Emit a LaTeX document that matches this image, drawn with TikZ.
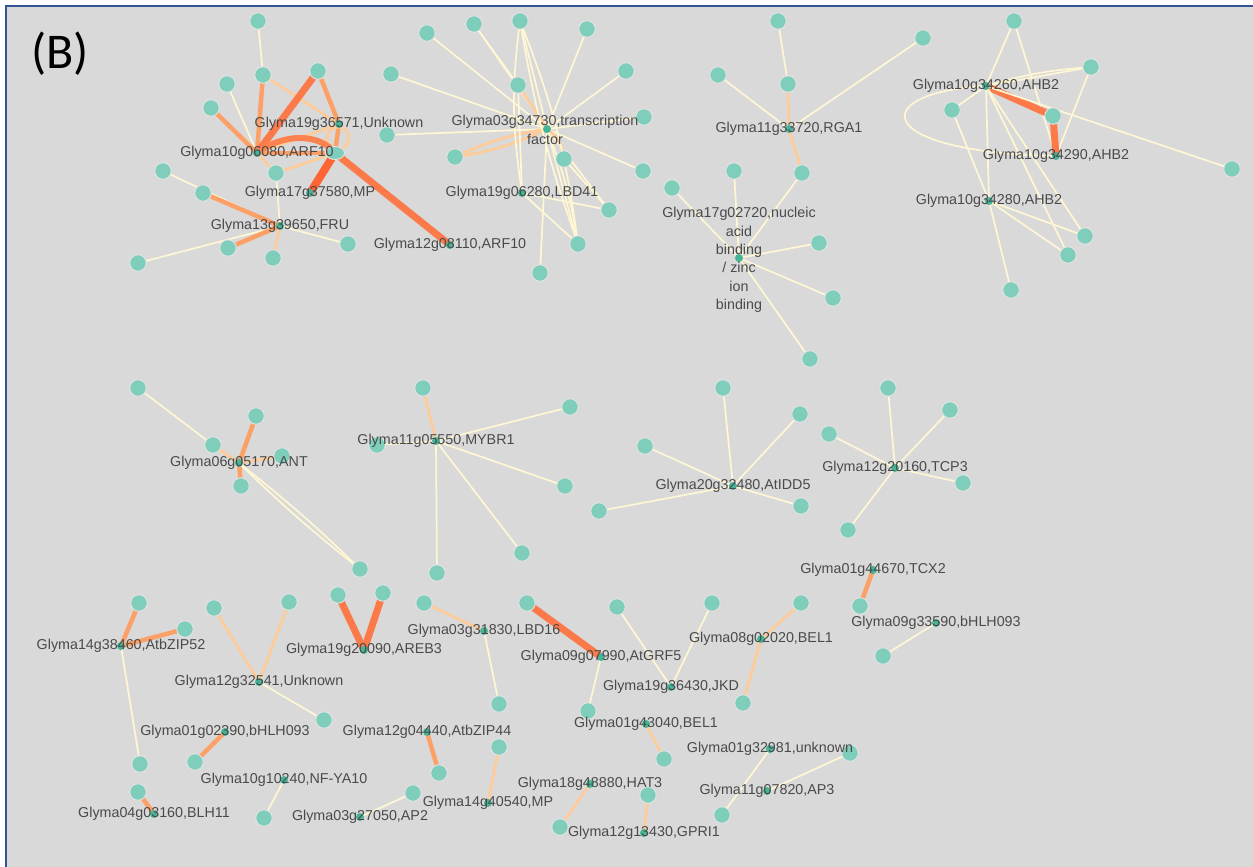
\documentclass[tikz,border=0pt]{standalone}
\usepackage{fontspec}
\setmainfont{Liberation Sans}
\newfontfamily\calfont{Carlito}
\usetikzlibrary{shapes.geometric}
\definecolor{bgc}{HTML}{D9D9D9}
\definecolor{frame}{HTML}{2F5597}
\definecolor{ndfill}{HTML}{7FCDBB}
\definecolor{ndborder}{HTML}{E4E4E4}
\definecolor{hbfill}{HTML}{45B497}
\definecolor{cream}{HTML}{FFF7D4}
\definecolor{lorange}{HTML}{FDCC9A}
\definecolor{morange}{HTML}{FDA068}
\definecolor{rorange}{HTML}{FC7A4A}
\definecolor{dred}{HTML}{FF6434}
\definecolor{labtext}{HTML}{4A4A4A}
\pgfdeclarelayer{back}
\pgfdeclarelayer{edges}
\pgfsetlayers{back,edges,main}
\tikzset{
  nd/.style={circle, fill=ndfill, draw=ndborder, line width=0.9pt, minimum size=16.5pt, inner sep=0pt},
  ndell/.style={ellipse, fill=ndfill, draw=ndborder, line width=0.9pt, minimum width=19pt, minimum height=13pt, inner sep=0pt},
  hb/.style={circle, fill=hbfill, minimum size=8pt, inner sep=0pt},
  lb/.style={font=\fontsize{14.3}{18.4}\selectfont, text=labtext, inner sep=0pt, align=center},
  ec/.style={draw=cream, line width=1.7pt},
  el/.style={draw=lorange, line width=2.8pt},
  eo/.style={draw=morange, line width=4.5pt},
  er/.style={draw=rorange, line width=7pt},
  ex/.style={draw=dred, line width=8pt},
}
\begin{document}
\begin{tikzpicture}[x=1pt,y=-1pt]
\useasboundingbox (0,0) rectangle (1253,867);
\begin{pgfonlayer}{back}
\fill[white] (0,0) rectangle (1253,867);
\fill[bgc] (6,6) rectangle (1253,867);
\draw[frame, line width=2.5pt] (6,867) -- (6,6) -- (1253,6);
\end{pgfonlayer}
\node[font=\calfont\fontsize{50}{60}\selectfont, text=black] (panel) at (60,54) {(B)};

% ---------- ARF10 cluster ----------
\node[nd] (a1) at (258,21) {};
\node[nd] (a2) at (263,75) {};
\node[nd] (a3) at (318,71) {};
\node[nd] (a4) at (227,84) {};
\node[nd] (a5) at (211,108) {};
\node[ndell] (a6) at (335,153) {};
\node[nd] (a7) at (276,173) {};
\node[nd] (a8) at (163,171) {};
\node[nd] (a9) at (203,193) {};
\node[nd] (a10) at (138,263) {};
\node[nd] (a11) at (228,248) {};
\node[nd] (a12) at (273,258) {};
\node[nd] (a13) at (348,244) {};
\node[hb] (hARF) at (257,153) {};
\node[hb] (hUNK) at (339,124) {};
\node[hb] (hMPa) at (310,193) {};
\node[hb] (hFRU) at (280,226) {};
\node[hb] (hARFb) at (450,245) {};

% ---------- transcription factor cluster ----------
\node[nd] (t1) at (427,33) {};
\node[nd] (t2) at (474,24) {};
\node[nd] (t3) at (520,21) {};
\node[nd] (t4) at (587,29) {};
\node[nd] (t5) at (391,74) {};
\node[nd] (t6) at (518,85) {};
\node[nd] (t7) at (626,71) {};
\node[nd] (t8) at (644,117) {};
\node[nd] (t9) at (387,135) {};
\node[nd] (t10) at (455,157) {};
\node[nd] (t11) at (564,159) {};
\node[nd] (t12) at (643,171) {};
\node[nd] (t13) at (609,210) {};
\node[nd] (t14) at (578,244) {};
\node[nd] (t15) at (540,273) {};
\node[hb] (hTF) at (547,129) {};
\node[hb] (hLBDa) at (522,193) {};

% ---------- RGA1 / nucleic acid cluster ----------
\node[nd] (r1) at (778,21) {};
\node[nd] (r2) at (923,38) {};
\node[nd] (r3) at (718,75) {};
\node[nd] (r4) at (788,84) {};
\node[nd] (r5) at (802,173) {};
\node[hb] (hRGA) at (789,129) {};
\node[nd] (n1) at (734,171) {};
\node[nd] (n2) at (672,188) {};
\node[nd] (n3) at (819,243) {};
\node[nd] (n4) at (833,298) {};
\node[nd] (n5) at (810,359) {};
\node[hb] (hNUC) at (739,258) {};

% ---------- AHB2 cluster ----------
\node[nd] (s1) at (1014,21) {};
\node[nd] (s2) at (1091,67) {};
\node[nd] (s3) at (952,110) {};
\node[nd] (s4) at (1053,116) {};
\node[nd] (s5) at (1232,169) {};
\node[nd] (s6) at (1085,236) {};
\node[nd] (s7) at (1068,255) {};
\node[nd] (s8) at (1011,290) {};
\node[hb] (hA1) at (986,86) {};
\node[hb] (hA2) at (1056,156) {};
\node[hb] (hA3) at (989,201) {};

% ---------- ANT / MYBR1 ----------
\node[nd] (p1) at (138,388) {};
\node[nd] (p2) at (256,416) {};
\node[nd] (p3) at (213,445) {};
\node[nd] (p4) at (282,456) {};
\node[nd] (p5) at (241,486) {};
\node[nd] (p6) at (360,569) {};
\node[hb] (hANT) at (239,463) {};
\node[nd] (m1) at (423,388) {};
\node[nd] (m2) at (570,407) {};
\node[nd] (m3) at (377,445) {};
\node[nd] (m4) at (565,486) {};
\node[nd] (m5) at (522,553) {};
\node[nd] (m6) at (437,573) {};
\node[hb] (hMY) at (436,441) {};

% ---------- AtIDD5 / TCP3 / TCX2 / bHLH093 ----------
\node[nd] (i1) at (723,388) {};
\node[nd] (i2) at (800,414) {};
\node[nd] (i3) at (645,446) {};
\node[nd] (i4) at (599,511) {};
\node[nd] (i5) at (801,506) {};
\node[hb] (hID) at (733,486) {};
\node[nd] (c1) at (888,388) {};
\node[nd] (c2) at (950,410) {};
\node[nd] (c3) at (829,434) {};
\node[nd] (c4) at (963,483) {};
\node[nd] (c5) at (848,530) {};
\node[hb] (hTC) at (895,468) {};
\node[nd] (x1) at (860,606) {};
\node[hb] (hTX) at (873,570) {};
\node[nd] (b1) at (883,656) {};
\node[hb] (hBa) at (936,623) {};

% ---------- bottom pairs ----------
\node[nd] (q1) at (139,603) {};
\node[nd] (q2) at (185,629) {};
\node[nd] (q3) at (140,764) {};
\node[hb] (hZ52) at (121,646) {};
\node[nd] (q4) at (214,608) {};
\node[nd] (q5) at (289,602) {};
\node[nd] (q6) at (324,720) {};
\node[hb] (hU2) at (259,682) {};
\node[nd] (q7) at (338,595) {};
\node[nd] (q8) at (383,593) {};
\node[hb] (hAR) at (364,650) {};
\node[nd] (q9) at (424,603) {};
\node[nd] (q10) at (499,704) {};
\node[hb] (hLBDb) at (484,631) {};
\node[nd] (q11) at (527,603) {};
\node[nd] (q12) at (588,711) {};
\node[hb] (hGRF) at (601,657) {};
\node[nd] (q13) at (617,607) {};
\node[nd] (q14) at (712,603) {};
\node[hb] (hJKD) at (671,687) {};
\node[nd] (q15) at (801,603) {};
\node[nd] (q16) at (743,703) {};
\node[hb] (hBEa) at (761,639) {};
\node[nd] (q17) at (664,759) {};
\node[hb] (hBEb) at (646,724) {};
\node[nd] (q18) at (195,762) {};
\node[hb] (hBb) at (225,732) {};
\node[nd] (q19) at (264,818) {};
\node[hb] (hNF) at (284,780) {};
\node[nd] (q20) at (439,773) {};
\node[hb] (hZ44) at (427,732) {};
\node[nd] (q21) at (138,792) {};
\node[hb] (hBLH) at (154,814) {};
\node[nd] (q22) at (413,793) {};
\node[hb] (hAP2) at (360,817) {};
\node[nd] (q23) at (499,747) {};
\node[hb] (hMPb) at (488,803) {};
\node[nd] (q24) at (560,827) {};
\node[hb] (hHAT) at (590,784) {};
\node[nd] (q25) at (648,795) {};
\node[hb] (hGP) at (644,833) {};
\node[nd] (q26) at (722,815) {};
\node[hb] (hUk) at (770,749) {};
\node[nd] (q27) at (850,753) {};
\node[hb] (hAP3) at (767,791) {};

% ---------- edges ----------
\begin{pgfonlayer}{edges}
% ARF10
\draw[ec] (a1.center) -- (a2.center);
\draw[eo] (a2.center) -- (hARF.center);
\draw[el] (a2.center) -- (hUNK.center);
\draw[er] (a3.center) -- (hARF.center);
\draw[eo] (a3.center) -- (hUNK.center);
\draw[eo] (hUNK.center) -- (a6.center);
\draw[el] (hUNK.center) -- (hARF.center);
\draw[el] (338,138) circle (11);
\draw[ec] (a4.center) -- (hARF.center);
\draw[eo] (a5.center) -- (hARF.center);
\draw[draw=rorange!80!morange, line width=6pt] (hARF.center) .. controls (285,132) and (320,134) .. (a6.center);
\draw[eo] (hARF.center) -- (a6.center);
\draw[el] (hARF.center) -- (a7.center);
\draw[el] (a7.center) -- (a6.center);
\draw[ex] (a6.center) -- (hMPa.center);
\draw[er] (a6.center) -- (hARFb.center);
\draw[ec] (a7.center) -- (hFRU.center);
\draw[ec] (a8.center) -- (hFRU.center);
\draw[eo] (a9.center) -- (hFRU.center);
\draw[ec] (a10.center) -- (hFRU.center);
\draw[eo] (a11.center) -- (hFRU.center);
\draw[el] (a12.center) -- (hFRU.center);
\draw[ec] (a13.center) -- (hFRU.center);
% transcription factor
\foreach \n in {t1,t2,t3,t4,t5,t7,t8,t9,t12,t13,t14,t15}{\draw[ec] (\n.center) -- (hTF.center);}
\draw[ec] (t2.center) -- (t6.center);
\draw[el] (t6.center) -- (hTF.center);
\draw[el] (hTF.center) to[bend left=8] (t10.center);
\draw[el] (hTF.center) to[bend right=8] (t10.center);
\draw[el] (hTF.center) to[bend left=25] (t11.center);
\draw[ec] (t3.center) to[bend right=8] (hLBDa.center);
\draw[ec] (t3.center) to[bend left=7] (t14.center);
\draw[ec] (t3.center) to[bend right=5] (t14.center);
\draw[ec] (t6.center) -- (hLBDa.center);
\draw[ec] (hLBDa.center) -- (t13.center);
\draw[ec] (hLBDa.center) -- (t14.center);
\draw[ec] (t11.center) -- (t13.center);
\draw[ec] (hTF.center) to[bend left=6] (t14.center);
% RGA1
\draw[ec] (r1.center) -- (r4.center);
\draw[el] (r4.center) -- (hRGA.center);
\draw[ec] (r3.center) -- (hRGA.center);
\draw[ec] (r2.center) -- (hRGA.center);
\draw[el] (hRGA.center) -- (r5.center);
\foreach \n in {n1,n2,n3,n4,n5,r5}{\draw[ec] (\n.center) -- (hNUC.center);}
% AHB2
\draw[ec] (s1.center) -- (hA1.center);
\draw[ec] (s1.center) -- (hA2.center);
\draw[ec] (s2.center) -- (hA1.center);
\draw[ec] (s2.center) to[bend right=6] (hA1.center);
\draw[ec] (s2.center) -- (hA2.center);
\draw[er] (hA1.center) -- (s4.center);
\draw[er] (s4.center) -- (hA2.center);
\draw[ec] (hA1.center) -- (s5.center);
\draw[ec] (hA1.center) .. controls (868,92) and (868,152) .. (hA2.center);
\draw[ec] (s3.center) -- (hA1.center);
\draw[ec] (s3.center) -- (hA3.center);
\draw[ec] (hA1.center) -- (hA3.center);
\draw[ec] (hA1.center) -- (s6.center);
\draw[ec] (hA1.center) -- (s7.center);
\draw[ec] (hA3.center) -- (s6.center);
\draw[ec] (hA3.center) -- (s7.center);
\draw[ec] (hA3.center) -- (s8.center);
% ANT
\draw[ec] (p1.center) -- (p3.center);
\draw[el] (p3.center) -- (hANT.center);
\draw[eo] (p2.center) -- (hANT.center);
\draw[el] (p4.center) -- (hANT.center);
\draw[eo] (p5.center) -- (hANT.center);
\draw[ec] (hANT.center) to[bend left=3] (p6.center);
\draw[ec] (hANT.center) to[bend right=3] (p6.center);
% MYBR1
\draw[el] (m1.center) -- (hMY.center);
\foreach \n in {m2,m3,m4,m5,m6}{\draw[ec] (\n.center) -- (hMY.center);}
% AtIDD5, TCP3
\foreach \n in {i1,i2,i3,i4,i5}{\draw[ec] (\n.center) -- (hID.center);}
\foreach \n in {c1,c2,c3,c4,c5}{\draw[ec] (\n.center) -- (hTC.center);}
\draw[eo] (hTX.center) -- (x1.center);
\draw[ec] (hBa.center) -- (b1.center);
% bottom
\draw[eo] (hZ52.center) -- (q1.center);
\draw[eo] (hZ52.center) -- (q2.center);
\draw[ec] (hZ52.center) -- (q3.center);
\draw[el] (hU2.center) -- (q4.center);
\draw[el] (hU2.center) -- (q5.center);
\draw[ec] (hU2.center) -- (q6.center);
\draw[er] (hAR.center) -- (q7.center);
\draw[er] (hAR.center) -- (q8.center);
\draw[el] (hLBDb.center) -- (q9.center);
\draw[ec] (hLBDb.center) -- (q10.center);
\draw[er] (hGRF.center) -- (q11.center);
\draw[ec] (hGRF.center) -- (q12.center);
\draw[ec] (hJKD.center) -- (q13.center);
\draw[ec] (hJKD.center) -- (q14.center);
\draw[el] (hBEa.center) -- (q15.center);
\draw[el] (hBEa.center) -- (q16.center);
\draw[el] (hBEb.center) -- (q17.center);
\draw[eo] (hBb.center) -- (q18.center);
\draw[ec] (hNF.center) -- (q19.center);
\draw[eo] (hZ44.center) -- (q20.center);
\draw[eo] (hBLH.center) -- (q21.center);
\draw[ec] (hAP2.center) -- (q22.center);
\draw[el] (hMPb.center) -- (q23.center);
\draw[el] (hHAT.center) -- (q24.center);
\draw[el] (hGP.center) -- (q25.center);
\draw[ec] (hUk.center) -- (q26.center);
\draw[ec] (hAP3.center) -- (q27.center);
\end{pgfonlayer}

% ---------- labels ----------
\node[lb] (lARF) at (hARF) {Glyma10g06080,ARF10};
\node[lb] (lUNK) at (hUNK) {Glyma19g36571,Unknown};
\node[lb] (lMPa) at (hMPa) {Glyma17g37580,MP};
\node[lb] (lFRU) at (hFRU) {Glyma13g39650,FRU};
\node[lb] (lARFb) at (hARFb) {Glyma12g08110,ARF10};
\node[lb] (lTF) at (545,130) {Glyma03g34730,transcription\\factor};
\node[lb] (lLBDa) at (hLBDa) {Glyma19g06280,LBD41};
\node[lb] (lRGA) at (hRGA) {Glyma11g33720,RGA1};
\node[lb] (lNUC) at (739,260) {Glyma17g02720,nucleic\\acid\\binding\\/ zinc\\ion\\binding};
\node[lb] (lA1) at (hA1) {Glyma10g34260,AHB2};
\node[lb] (lA2) at (hA2) {Glyma10g34290,AHB2};
\node[lb] (lA3) at (hA3) {Glyma10g34280,AHB2};
\node[lb] (lANT) at (hANT) {Glyma06g05170,ANT};
\node[lb] (lMY) at (hMY) {Glyma11g05550,MYBR1};
\node[lb] (lID) at (hID) {Glyma20g32480,AtIDD5};
\node[lb] (lTC) at (hTC) {Glyma12g20160,TCP3};
\node[lb] (lTX) at (hTX) {Glyma01g44670,TCX2};
\node[lb] (lBa) at (hBa) {Glyma09g33590,bHLH093};
\node[lb] (lZ52) at (hZ52) {Glyma14g38460,AtbZIP52};
\node[lb] (lU2) at (hU2) {Glyma12g32541,Unknown};
\node[lb] (lAR) at (hAR) {Glyma19g20090,AREB3};
\node[lb] (lLBDb) at (hLBDb) {Glyma03g31830,LBD16};
\node[lb] (lGRF) at (hGRF) {Glyma09g07990,AtGRF5};
\node[lb] (lJKD) at (hJKD) {Glyma19g36430,JKD};
\node[lb] (lBEa) at (hBEa) {Glyma08g02020,BEL1};
\node[lb] (lBEb) at (hBEb) {Glyma01g43040,BEL1};
\node[lb] (lBb) at (hBb) {Glyma01g02390,bHLH093};
\node[lb] (lNF) at (hNF) {Glyma10g10240,NF-YA10};
\node[lb] (lZ44) at (hZ44) {Glyma12g04440,AtbZIP44};
\node[lb] (lBLH) at (hBLH) {Glyma04g03160,BLH11};
\node[lb] (lAP2) at (hAP2) {Glyma03g27050,AP2};
\node[lb] (lMPb) at (hMPb) {Glyma14g40540,MP};
\node[lb] (lHAT) at (hHAT) {Glyma18g48880,HAT3};
\node[lb] (lGP) at (hGP) {Glyma12g13430,GPRI1};
\node[lb] (lUk) at (hUk) {Glyma01g32981,unknown};
\node[lb] (lAP3) at (hAP3) {Glyma11g07820,AP3};
\end{tikzpicture}
\end{document}
